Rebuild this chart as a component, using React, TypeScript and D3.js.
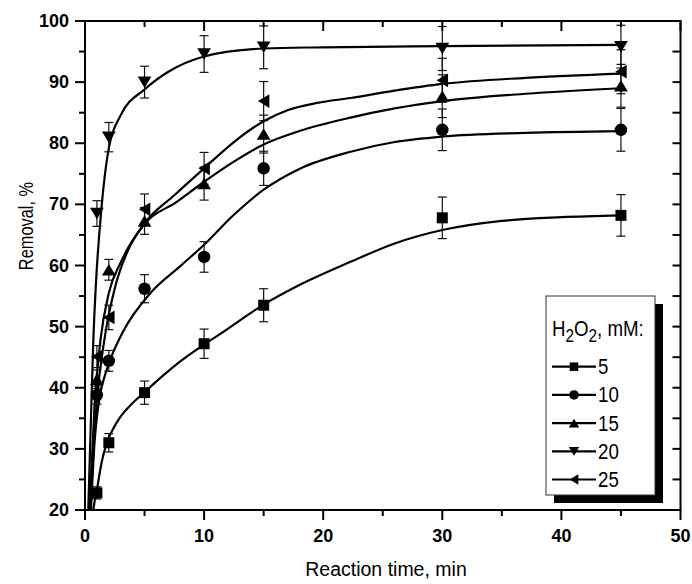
import React from "react";
import * as d3 from "d3";

// Sampling times (min) and measured removal (%) with error bars per H2O2 dose
const times = [1, 2, 5, 10, 15, 30, 45];
const doses = ["5", "10", "15", "20", "25"];
const removal5 = [22.8, 31.0, 39.2, 47.2, 53.5, 67.8, 68.2];
const err5 = [1.0, 1.5, 1.9, 2.4, 2.7, 3.4, 3.4];
const removal10 = [38.8, 44.4, 56.2, 61.4, 75.9, 82.2, 82.2];
const err10 = [1.5, 1.7, 2.3, 2.5, 2.8, 3.4, 3.5];
const removal15 = [41.4, 59.3, 67.3, 73.4, 81.5, 87.7, 89.4];
const err15 = [1.5, 1.7, 2.2, 2.7, 3.1, 3.5, 3.5];
const removal20 = [68.5, 81.0, 90.0, 94.6, 95.7, 95.5, 95.8];
const err20 = [2.1, 2.4, 2.6, 3.0, 3.5, 3.6, 3.5];
const removal25 = [45.1, 51.5, 69.2, 75.9, 86.9, 90.3, 91.7];
const err25 = [1.8, 2.0, 2.5, 2.6, 3.2, 3.6, 3.6];

// Fitted kinetic curves, [time, removal]
const fit5 = [[0.55, 17], [0.7, 20], [1, 23.3], [1.4, 27.8], [1.8, 30.8], [2.4, 33.4], [3, 35.3], [4, 37.5], [4.9, 39.1], [6.5, 41.9], [8, 44.3], [11.8, 49.4], [15, 53.6], [18, 56.8], [22.3, 60.6], [26, 63.6], [30, 65.8], [35, 67.3], [40, 67.9], [45, 68.2]];
const fit10 = [[0.45, 18], [0.6, 24], [0.8, 31], [1, 35.2], [1.3, 39.2], [1.7, 42.2], [2.2, 45], [3.2, 49.2], [5.5, 55.5], [8, 59.9], [10, 63.4], [12.5, 68.3], [15, 72.4], [18, 75.8], [22.3, 78.6], [26, 80.2], [30, 81.1], [37, 81.7], [45, 82.0]];
const fit15 = [[0.3, 15], [0.5, 25], [0.8, 37], [1.3, 47.8], [2, 55.5], [3, 60.5], [5, 66.8], [7.7, 70.4], [10, 73.7], [12.5, 77], [15, 79.8], [18, 82.0], [22.3, 84.2], [26, 85.7], [30, 86.9], [37, 88.1], [45, 89.0]];
const fit20 = [[0.2, 15], [0.35, 25], [0.5, 35], [0.7, 47.8], [0.92, 57.1], [1.32, 68], [2, 79.2], [3, 84.6], [5, 88.8], [7, 91.7], [10, 94.2], [15, 95.5], [20, 95.7], [30, 95.9], [45, 96.1]];
const fit25 = [[0.35, 15], [0.6, 26], [1, 38], [1.6, 47.5], [2.6, 57], [3.5, 62], [5, 66.9], [7.5, 71.5], [10, 75.9], [12.5, 80.2], [15, 83.6], [17, 85.4], [19.5, 86.6], [22.3, 87.4], [26, 88.6], [30, 89.7], [37, 90.7], [45, 91.4]];

const xTicks = [0, 10, 20, 30, 40, 50];
const yTicks = [20, 30, 40, 50, 60, 70, 80, 90, 100];

type Shape = "square" | "circle" | "up" | "down" | "left";

const series: { label: string; values: number[]; errors: number[]; fit: number[][]; shape: Shape }[] = [
  { label: doses[0], values: removal5, errors: err5, fit: fit5, shape: "square" },
  { label: doses[1], values: removal10, errors: err10, fit: fit10, shape: "circle" },
  { label: doses[2], values: removal15, errors: err15, fit: fit15, shape: "up" },
  { label: doses[3], values: removal20, errors: err20, fit: fit20, shape: "down" },
  { label: doses[4], values: removal25, errors: err25, fit: fit25, shape: "left" },
];

function markerPath(shape: Shape, s: number): string {
  const p = d3.path();
  if (shape === "square") {
    p.rect(-s / 2, -s / 2, s, s);
  } else if (shape === "circle") {
    p.arc(0, 0, s / 2, 0, Math.PI * 2);
  } else {
    const w = s * 1.1;
    const h = s * 0.92;
    let pts: number[][];
    if (shape === "up") pts = [[0, -h / 2], [w / 2, h / 2], [-w / 2, h / 2]];
    else if (shape === "down") pts = [[0, h / 2], [w / 2, -h / 2], [-w / 2, -h / 2]];
    else pts = [[-h / 2, 0], [h / 2, -w / 2], [h / 2, w / 2]];
    p.moveTo(pts[0][0], pts[0][1]);
    p.lineTo(pts[1][0], pts[1][1]);
    p.lineTo(pts[2][0], pts[2][1]);
    p.closePath();
  }
  return p.toString();
}

const markerSize: Record<Shape, number> = { square: 11, circle: 12.5, up: 12.5, down: 12.5, left: 12.5 };
const legendSize: Record<Shape, number> = { square: 8.5, circle: 9.5, up: 9.5, down: 9.5, left: 9.5 };

export default function App() {
  const W = 692;
  const H = 584;
  const x = d3.scaleLinear().domain([0, 50]).range([85, 680.5]);
  const y = d3.scaleLinear().domain([20, 100]).range([510, 21]);
  const [x0, x1] = x.range();
  const [y0, y1] = y.range();

  const line = d3
    .line<number[]>()
    .x((d) => x(d[0]))
    .y((d) => y(d[1]))
    .curve(d3.curveMonotoneX);

  const xMinor = d3.range(5, 50, 10);
  const yMinor = d3.range(25, 100, 10);
  const rightTicks = d3.range(25, 100, 5);

  const font = "'Liberation Sans', Arial, sans-serif";
  const narrowScale = 0.85;

  const legendX = 546;
  const legendY = 296;
  const legendW = 109;
  const legendH = 199;
  const entryY = (i: number) => 366.7 + i * 28.2;

  return (
    <svg width={W} height={H} style={{ position: "absolute", left: 0, top: 0, background: "#fff" }}>
      <defs>
        <clipPath id="plotClip">
          <rect x={x0} y={y1} width={x1 - x0} height={y0 - y1} />
        </clipPath>
      </defs>
      <rect x={0} y={0} width={W} height={H} fill="#fff" />

      {/* fitted curves */}
      <g clipPath="url(#plotClip)" fill="none" stroke="#000" strokeWidth={2.2}>
        {series.map((s) => (
          <path key={s.label} d={line(s.fit) || ""} />
        ))}
      </g>

      {/* error bars */}
      <g stroke="#111" strokeWidth={1.2}>
        {series.map((s) =>
          s.values.map((v, i) => {
            const cx = x(times[i]);
            const top = y(v + s.errors[i]);
            const bot = y(v - s.errors[i]);
            return (
              <g key={s.label + "-" + i}>
                <line x1={cx} x2={cx} y1={top} y2={bot} />
                <line x1={cx - 4.5} x2={cx + 4.5} y1={top} y2={top} />
                <line x1={cx - 4.5} x2={cx + 4.5} y1={bot} y2={bot} />
              </g>
            );
          })
        )}
      </g>

      {/* markers */}
      <g fill="#000">
        {series.map((s) =>
          s.values.map((v, i) => (
            <path
              key={s.label + "m" + i}
              d={markerPath(s.shape, markerSize[s.shape])}
              transform={`translate(${x(times[i])},${y(v)})`}
            />
          ))
        )}
      </g>

      {/* frame */}
      <g stroke="#000" strokeWidth={2} fill="none">
        <rect x={x0} y={y1} width={x1 - x0} height={y0 - y1} />
        {xTicks.map((t) => (
          <line key={"bx" + t} x1={x(t)} x2={x(t)} y1={y0} y2={y0 + 10} />
        ))}
        {xMinor.map((t) => (
          <line key={"bxm" + t} x1={x(t)} x2={x(t)} y1={y0} y2={y0 + 6} />
        ))}
        {xTicks.map((t) => (
          <line key={"tx" + t} x1={x(t)} x2={x(t)} y1={y1} y2={y1 + 10} />
        ))}
        {xMinor.map((t) => (
          <line key={"txm" + t} x1={x(t)} x2={x(t)} y1={y1} y2={y1 + 6} />
        ))}
        {yTicks.map((t) => (
          <line key={"ly" + t} x1={x0 - 10} x2={x0} y1={y(t)} y2={y(t)} />
        ))}
        {yMinor.map((t) => (
          <line key={"lym" + t} x1={x0 - 6} x2={x0} y1={y(t)} y2={y(t)} />
        ))}
        {rightTicks.map((t) => (
          <line key={"ry" + t} x1={x1 - 8} x2={x1} y1={y(t)} y2={y(t)} />
        ))}
      </g>

      {/* tick labels */}
      <g fontFamily={font} fontWeight="bold" fontSize={18} fill="#000">
        {xTicks.map((t) => (
          <text key={"xl" + t} x={x(t)} y={542} textAnchor="middle">
            {t}
          </text>
        ))}
        {yTicks.map((t) => (
          <text key={"yl" + t} x={69} y={y(t)} textAnchor="end" dominantBaseline="central">
            {t}
          </text>
        ))}
      </g>

      {/* axis titles */}
      <text x={386} y={576} textAnchor="middle" fontFamily={font} fontSize={19.5} fill="#000">
        Reaction time, min
      </text>
      <g transform="translate(33,226) rotate(-90) scale(0.84,1)">
        <text textAnchor="middle" fontFamily={font} fontSize={19.5} fill="#000">
          Removal, %
        </text>
      </g>

      {/* legend */}
      <rect x={legendX + 8} y={legendY + 8} width={legendW} height={legendH} fill="#000" />
      <rect x={legendX} y={legendY} width={legendW} height={legendH} fill="#fff" stroke="#333" strokeWidth={1} />
      <g transform={`translate(552,336) scale(${narrowScale},1)`}>
        <text x={0} y={0} fontFamily={font} fontSize={22} fill="#000">
          H
          <tspan dy={6} fontSize={18}>
            2
          </tspan>
          <tspan dy={-6}>O</tspan>
          <tspan dy={6} fontSize={18}>
            2
          </tspan>
          <tspan dy={-6}>, mM:</tspan>
        </text>
      </g>
      {series.map((s, i) => (
        <g key={"lg" + s.label}>
          <line x1={552} x2={596} y1={entryY(i)} y2={entryY(i)} stroke="#000" strokeWidth={2.2} />
          <path d={markerPath(s.shape, legendSize[s.shape])} transform={`translate(574,${entryY(i)})`} fill="#000" />
          <g transform={`translate(598,${entryY(i)}) scale(${narrowScale},1)`}>
            <text x={0} y={0} dominantBaseline="central" fontFamily={font} fontSize={22} fill="#000">
              {s.label}
            </text>
          </g>
        </g>
      ))}
    </svg>
  );
}
